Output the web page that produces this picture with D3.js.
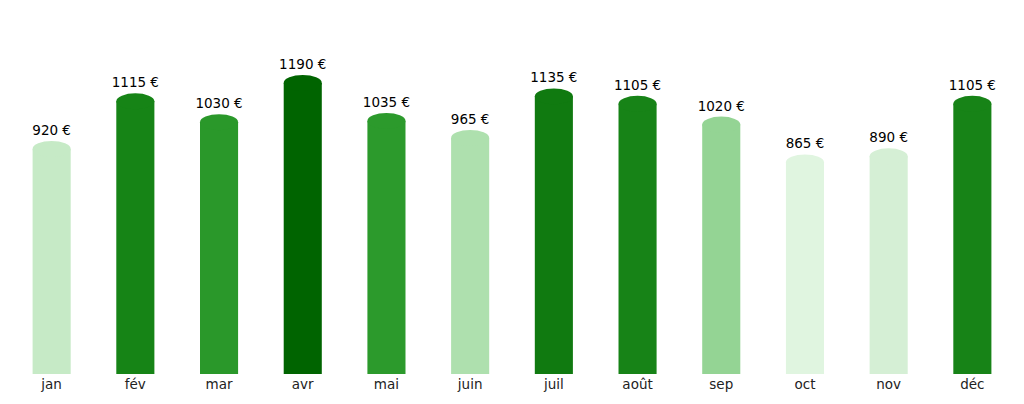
<!DOCTYPE html>
<html><head><meta charset="utf-8">
<script src="https://cdn.jsdelivr.net/npm/d3@7"></script>
<style>body{margin:0;background:#fff}svg{font-family:"DejaVu Sans",sans-serif}</style>
</head><body><svg width="1024" height="404"></svg>
<script>
const months = ['jan','fév','mar','avr','mai','juin','juil','août','sep','oct','nov','déc']
const amounts = [920,1115,1030,1190,1035,965,1135,1105,1020,865,890,1105]
const colors = ['#c6eac6','#168416','#2a982a','#006400','#2c9a2c','#aee0ae','#107a10','#178317','#94d494','#e0f5e0','#d5efd5','#178317']

const svg = d3.select('svg')
const base = 374

const x = d3.scaleBand().domain(months).range([10, 1014]).paddingInner(0.545).paddingOuter(0.27)
const y = d3.scaleLinear().domain([0, 1190]).range([base, 83])

const bars = svg.selectAll('g.bar').data(months).enter().append('g').attr('class', 'bar')

bars.append('rect')
  .attr('x', d => x(d))
  .attr('y', (d, i) => y(amounts[i]))
  .attr('width', x.bandwidth())
  .attr('height', (d, i) => base - y(amounts[i]))
  .attr('fill', (d, i) => colors[i])

bars.append('ellipse')
  .attr('cx', d => x(d) + x.bandwidth() / 2)
  .attr('cy', (d, i) => y(amounts[i]))
  .attr('rx', x.bandwidth() / 2)
  .attr('ry', 8)
  .attr('fill', (d, i) => colors[i])

bars.append('text')
  .attr('x', d => x(d) + x.bandwidth() / 2)
  .attr('y', (d, i) => y(amounts[i]) - 14)
  .attr('text-anchor', 'middle')
  .attr('font-size', 13.5)
  .text((d, i) => amounts[i] + ' €')

const axis = svg.append('g').attr('transform', `translate(0,${base})`)
  .call(d3.axisBottom(x).tickSize(0).tickPadding(5))
axis.select('.domain').remove()
axis.selectAll('text').attr('font-size', 13.5).attr('fill', '#222').style('font-family', '"DejaVu Sans",sans-serif')
</script></body></html>
